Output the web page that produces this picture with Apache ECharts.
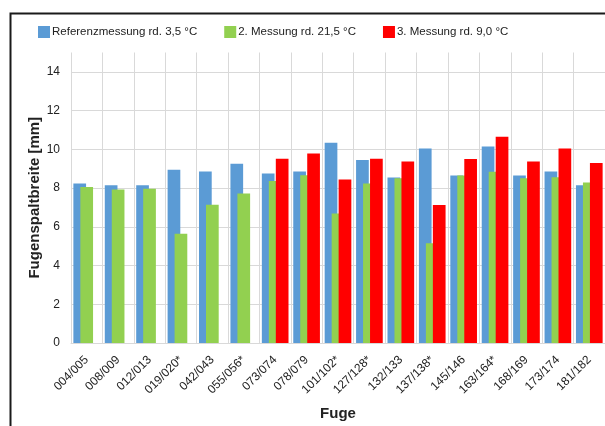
<!DOCTYPE html>
<html>
<head>
<meta charset="utf-8">
<script src="https://cdn.jsdelivr.net/npm/echarts@6/dist/echarts.min.js"></script>
<style>html,body{margin:0;padding:0;background:#fff;}#c{width:605px;height:426px;}</style>
</head>
<body>
<div id="c"></div>
<script>
const categories = ['004/005','008/009','012/013','019/020*','042/043','055/056*','073/074','078/079','101/102*','127/128*','132/133','137/138*','145/146','163/164*','168/169','173/174','181/182'];
const seriesNames = ['Referenzmessung rd. 3,5 °C','2. Messung rd. 21,5 °C','3. Messung rd. 9,0 °C'];
const referenz = [8.23,8.15,8.15,8.95,8.85,9.25,8.75,8.85,10.34,9.45,8.54,10.04,8.65,10.14,8.65,8.85,8.15];
const messung2 = [8.06,7.93,7.96,5.64,7.14,7.72,8.37,8.66,6.69,8.23,8.51,5.15,8.65,8.84,8.51,8.56,8.29];
const messung3 = [null,null,null,null,null,null,9.52,9.78,8.44,9.52,9.37,7.12,9.5,10.65,9.37,10.04,9.3];
const yTicks = {min:0, max:15, interval:2};
const colors = ['#5B9BD5','#92D050','#FF0000'];
const font = '"Liberation Sans", Arial, sans-serif';

const chart = echarts.init(document.getElementById('c'), null, {renderer:'canvas'});
const mk = (i, data) => ({
  name: seriesNames[i], type:'bar', data: data, barWidth: 12.7, barGap:'-45%',
  itemStyle:{color: colors[i]}, animation:false
});
chart.setOption({
  animation:false,
  textStyle:{fontFamily: font},
  graphic:[{type:'rect', shape:{x:10.5,y:13.5,width:620,height:440}, style:{fill:'none', stroke:'#1a1a1a', lineWidth:2}, silent:true}],
  legend:{
    top:21, left:33, itemWidth:12, itemHeight:12, itemGap:27,
    icon:'rect',
    textStyle:{fontFamily:font, fontSize:11.5, color:'#222', padding:[0,0,0,-3]},
    data: seriesNames
  },
  grid:{left:71, top:52.5, width:536, height:291.5, containLabel:false},
  xAxis:{
    type:'category', data: categories,
    name:'Fuge', nameLocation:'middle', nameGap:63, nameMoveOverlap:false,
    nameTextStyle:{fontFamily:font, fontSize:15, fontWeight:'bold', color:'#222'},
    axisLine:{show:true, lineStyle:{color:'#d9d9d9', width:1}},
    axisTick:{show:false},
    splitLine:{show:true, lineStyle:{color:'#d9d9d9', width:1}},
    axisLabel:{rotate:45, interval:0, margin:15, fontFamily:font, fontSize:12, color:'#222'}
  },
  yAxis:{
    type:'value', min:yTicks.min, max:yTicks.max, interval:yTicks.interval,
    name:'Fugenspaltbreite [mm]', nameLocation:'middle', nameGap:29, nameRotate:90, nameMoveOverlap:false,
    nameTextStyle:{fontFamily:font, fontSize:15, fontWeight:'bold', color:'#222'},
    axisLine:{show:false}, axisTick:{show:false},
    axisLabel:{margin:11, fontFamily:font, fontSize:12, color:'#222', showMaxLabel:false,
      formatter: v => (v % 2 === 0 ? String(v) : '')},
    splitLine:{show:true, showMaxLine:false, lineStyle:{color:'#d9d9d9', width:1}}
  },
  series:[mk(0, referenz), mk(1, messung2), mk(2, messung3)]
});
</script>
</body>
</html>
